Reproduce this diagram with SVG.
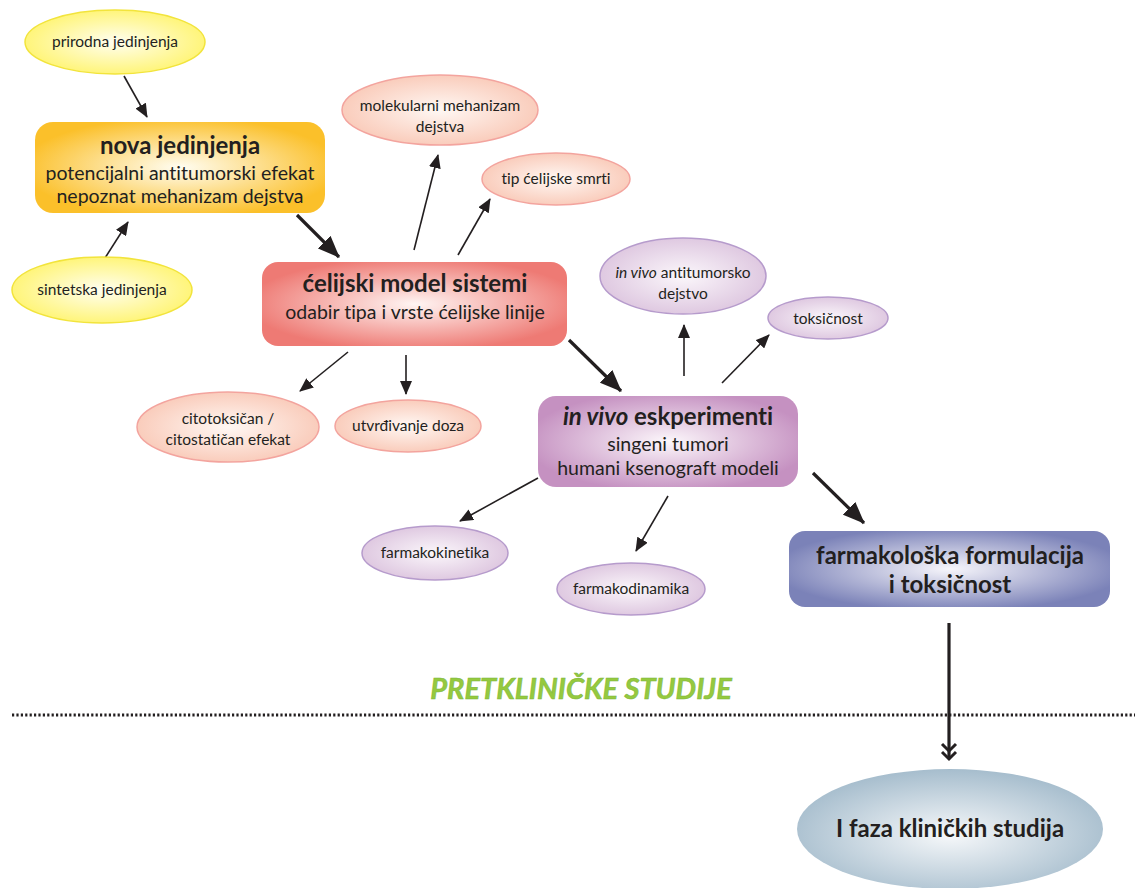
<svg xmlns="http://www.w3.org/2000/svg" width="1135" height="888" viewBox="0 0 1135 888">
<style>
text{font-family:Lato,"Open Sans","Liberation Sans",sans-serif;fill:#231f20;text-anchor:middle;font-variant-ligatures:none}
.s{font-size:15.5px}
.m{font-size:19.5px}
.b{font-size:24px;font-weight:bold}
.thin{stroke:#231f20;stroke-width:1.6;fill:none;marker-end:url(#ah)}
.thick{stroke:#231f20;stroke-width:3.2;fill:none;marker-end:url(#AH)}
.ye{fill:url(#gY);stroke:#f2e43c;stroke-width:1.5}
.or{fill:url(#gO);stroke:#f3a49e;stroke-width:1.5}
.pu{fill:url(#gP);stroke:#b69bcc;stroke-width:1.5}
</style>
<defs>
<radialGradient id="gY" cx="0.5" cy="0.5" r="0.55"><stop offset="0" stop-color="#fffef0"/><stop offset="1" stop-color="#fff46e"/></radialGradient>
<radialGradient id="gO" cx="0.5" cy="0.5" r="0.55"><stop offset="0" stop-color="#fff8f4"/><stop offset="1" stop-color="#f9c8b6"/></radialGradient>
<radialGradient id="gP" cx="0.5" cy="0.5" r="0.55"><stop offset="0" stop-color="#fbf7fb"/><stop offset="1" stop-color="#dcc4de"/></radialGradient>
<radialGradient id="gNova" cx="0.5" cy="0.5" r="0.55"><stop offset="0" stop-color="#fffdf2"/><stop offset="1" stop-color="#fbc02a"/></radialGradient>
<radialGradient id="gCel" cx="0.5" cy="0.5" r="0.55"><stop offset="0" stop-color="#fff5f3"/><stop offset="1" stop-color="#ee7a74"/></radialGradient>
<radialGradient id="gViv" cx="0.5" cy="0.5" r="0.55"><stop offset="0" stop-color="#fcf7fb"/><stop offset="1" stop-color="#c591c1"/></radialGradient>
<radialGradient id="gFar" cx="0.5" cy="0.5" r="0.55"><stop offset="0" stop-color="#f7f6fb"/><stop offset="1" stop-color="#7b82b8"/></radialGradient>
<radialGradient id="gFaz" cx="0.5" cy="0.55" r="0.55"><stop offset="0" stop-color="#f6f8fa"/><stop offset="1" stop-color="#a6bdcd"/></radialGradient>
<marker id="ah" markerUnits="userSpaceOnUse" markerWidth="14" markerHeight="12" viewBox="0 0 14 12" refX="13" refY="6" orient="auto"><path d="M0,0 L14,6 L0,12 Z" fill="#231f20"/></marker>
<marker id="AH" markerUnits="userSpaceOnUse" markerWidth="22" markerHeight="18" viewBox="0 0 22 18" refX="21" refY="9" orient="auto"><path d="M0,0 L22,9 L0,18 Z" fill="#231f20"/></marker>
</defs>
<rect width="1135" height="888" fill="#ffffff"/>

<g id="connectors">
<line class="thin" x1="124" y1="76" x2="147" y2="117"/>
<line class="thin" x1="105" y1="258" x2="128" y2="222"/>
<line class="thick" x1="297" y1="215" x2="339" y2="257"/>
<line class="thin" x1="414" y1="250" x2="438" y2="155"/>
<line class="thin" x1="458" y1="255" x2="490" y2="199"/>
<line class="thin" x1="348" y1="352" x2="300" y2="391"/>
<line class="thin" x1="406" y1="355" x2="406" y2="394"/>
<line class="thick" x1="569" y1="340" x2="621" y2="391"/>
<line class="thin" x1="684" y1="376" x2="684" y2="325"/>
<line class="thin" x1="722" y1="383" x2="769" y2="335"/>
<line class="thin" x1="538" y1="478" x2="460" y2="521"/>
<line class="thin" x1="668" y1="496" x2="636" y2="551"/>
<line class="thick" x1="813" y1="473" x2="864" y2="523"/>
<line x1="949" y1="623" x2="949" y2="757" stroke="#231f20" stroke-width="3.2"/>
<path d="M942,744 L949,751 L956,744 M942,752 L949,759 L956,752" stroke="#231f20" stroke-width="3" fill="none"/>
</g>

<g id="prirodna"><ellipse class="ye" cx="115" cy="42" rx="90" ry="32"/><text class="s" x="115" y="47">prirodna jedinjenja</text></g>
<g id="sintetska"><ellipse class="ye" cx="102" cy="290" rx="90" ry="33"/><text class="s" x="102" y="295">sintetska jedinjenja</text></g>

<g id="nova"><rect x="35" y="122" width="290" height="91" rx="18" fill="url(#gNova)"/>
<text class="b" x="180" y="154">nova jedinjenja</text>
<text class="m" x="180" y="180">potencijalni antitumorski efekat</text>
<text class="m" x="180" y="203">nepoznat mehanizam dejstva</text></g>

<g id="molekularni"><ellipse class="or" cx="440" cy="110" rx="98" ry="35"/><text class="s" x="440" y="111">molekularni mehanizam</text><text class="s" x="440" y="132">dejstva</text></g>
<g id="tip"><ellipse class="or" cx="556" cy="179" rx="74" ry="26"/><text class="s" x="556" y="184">tip ćelijske smrti</text></g>

<g id="celijski"><rect x="262" y="262" width="305" height="84" rx="16" fill="url(#gCel)"/>
<text class="b" x="415" y="292">ćelijski model sistemi</text>
<text class="m" x="415" y="319">odabir tipa i vrste ćelijske linije</text></g>

<g id="citotoksican"><ellipse class="or" cx="228" cy="427" rx="91" ry="35"/><text class="s" x="228" y="424">citotoksičan /</text><text class="s" x="228" y="445">citostatičan efekat</text></g>
<g id="utvrdjivanje"><ellipse class="or" cx="408" cy="426" rx="73" ry="26"/><text class="s" x="408" y="431">utvrđivanje doza</text></g>

<g id="antitumorsko"><ellipse class="pu" cx="683" cy="276" rx="83" ry="38"/><text class="s" x="683" y="278"><tspan font-style="italic">in vivo</tspan> antitumorsko</text><text class="s" x="683" y="299">dejstvo</text></g>
<g id="toksicnost"><ellipse class="pu" cx="828" cy="318" rx="60" ry="21"/><text class="s" x="828" y="324">toksičnost</text></g>

<g id="invivo"><rect x="538" y="396" width="260" height="91" rx="18" fill="url(#gViv)"/>
<text class="b" x="668" y="425"><tspan font-style="italic">in vivo</tspan> eskperimenti</text>
<text class="m" x="668" y="451">singeni tumori</text>
<text class="m" x="668" y="475">humani ksenograft modeli</text></g>

<g id="farmakokinetika"><ellipse class="pu" cx="435" cy="553" rx="73" ry="27"/><text class="s" x="435" y="558">farmakokinetika</text></g>
<g id="farmakodinamika"><ellipse class="pu" cx="631" cy="589" rx="74" ry="26"/><text class="s" x="631" y="594">farmakodinamika</text></g>

<g id="farmakoloska"><rect x="789" y="531" width="321" height="76" rx="16" fill="url(#gFar)"/>
<text class="b" x="950" y="564">farmakološka formulacija</text>
<text class="b" x="950" y="593">i toksičnost</text></g>

<g id="faza"><ellipse cx="950" cy="829" rx="153" ry="60" fill="url(#gFaz)"/>
<text class="b" x="950" y="837">I faza kliničkih studija</text></g>

<g id="granica">
<text x="581" y="699" font-size="29" font-weight="bold" font-style="italic" style="fill:#95c93f" stroke="#7bb53a" stroke-width="0.5">PRETKLINIČKE STUDIJE</text>
<line x1="12" y1="715" x2="1135" y2="715" stroke="#231f20" stroke-width="3" stroke-dasharray="2.2 2.2"/>
</g>
</svg>
